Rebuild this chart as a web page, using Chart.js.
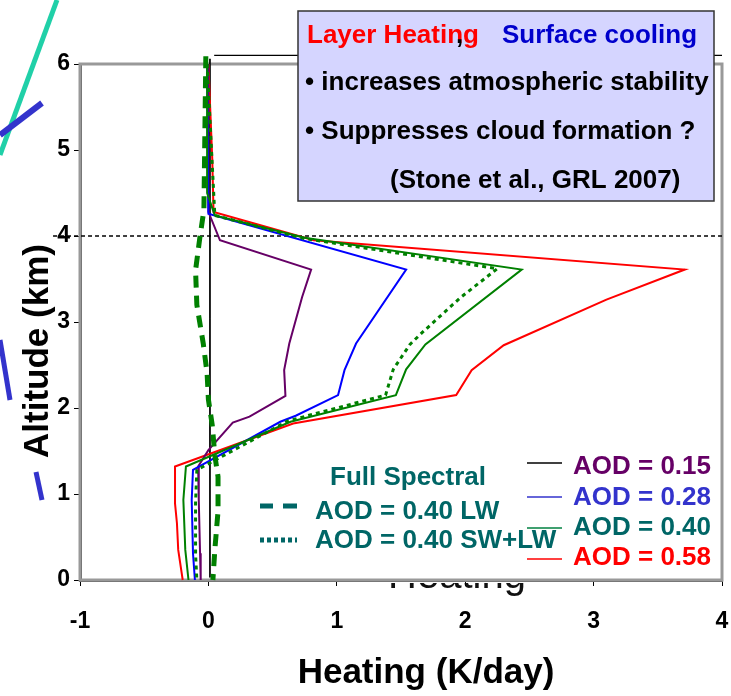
<!DOCTYPE html>
<html>
<head>
<meta charset="utf-8">
<script src="https://cdn.jsdelivr.net/npm/chart.js@4.4.1/dist/chart.umd.min.js"></script>
<style>
  html, body { margin: 0; padding: 0; background: #fff; }
</style>
</head>
<body>
<canvas id="heatChart" width="731" height="696"></canvas>
<script>
// heating rate (K/day) vs altitude (km)

const aod15Heat = [0.0, 0.0, 0.09, 0.80, 0.73, 0.63, 0.59, 0.60, 0.32, 0.19, 0.0, -0.08, -0.075, -0.065, -0.06];
const aod15Alt  = [6.0, 4.28, 3.95, 3.61, 3.29, 2.75, 2.44, 2.14, 1.90, 1.83, 1.51, 1.32, 0.93, 0.31, 0.0];

const aod28Heat = [-0.01, 0.0, 1.54, 1.15, 1.06, 1.01, 0.68, 0.56, -0.12, -0.13, -0.12, -0.105];
const aod28Alt  = [6.0, 4.26, 3.61, 2.75, 2.44, 2.15, 1.91, 1.84, 1.28, 0.93, 0.31, 0.0];

const aod40Heat = [-0.01, -0.01, 0.05, 0.75, 2.44, 1.69, 1.54, 1.46, 0.64, -0.175, -0.195, -0.18, -0.155];
const aod40Alt  = [6.0, 4.5, 4.24, 3.98, 3.61, 2.74, 2.45, 2.15, 1.84, 1.32, 0.93, 0.35, 0.0];

const aod58Heat = [0.0, 0.03, 0.04, 0.82, 3.71, 3.10, 2.30, 2.05, 1.93, 0.66, -0.26, -0.26, -0.245, -0.235, -0.20];
const aod58Alt  = [6.0, 4.9, 4.28, 3.95, 3.61, 3.26, 2.73, 2.44, 2.15, 1.82, 1.32, 0.89, 0.66, 0.35, 0.0];

// AOD 0.40 longwave only (dashed) and shortwave+longwave (dotted)
const lwHeat = [-0.02, -0.035, -0.065, -0.10, -0.09, -0.04, -0.01, 0.0, 0.03, 0.05, 0.075, 0.075, 0.05, 0.035];
const lwAlt  = [6.09, 4.3, 4.0, 3.6, 3.2, 2.75, 2.4, 2.1, 1.8, 1.45, 1.2, 0.8, 0.35, 0.0];

const swlwHeat = [-0.01, 0.05, 0.75, 2.25, 1.96, 1.66, 1.57, 1.44, 1.38, 0.62, -0.09, -0.1, -0.1, -0.09];
const swlwAlt  = [6.0, 4.24, 3.97, 3.62, 3.28, 2.87, 2.74, 2.45, 2.15, 1.85, 1.28, 0.9, 0.3, 0.0];

// reference lines
const zeroHeat = [0.012, 0.012];
const zeroAlt  = [6.06, 0.03];
const capHeat  = [-1.21, 4.0];
const capAlt   = [4.0, 4.0];
const topHeat  = [0.045, 4.0];
const topAlt   = [6.1, 6.1];

const xTicks = [-1, 0, 1, 2, 3, 4];
const yTicks = [0, 1, 2, 3, 4, 5, 6];

const FONT = '"Liberation Sans", Arial, sans-serif';

function pts(xs, ys) {
  return xs.map((x, i) => ({ x: x, y: ys[i] }));
}

function line(label, xs, ys, color, width, dash, order) {
  return {
    label: label,
    data: pts(xs, ys),
    showLine: true,
    borderColor: color,
    backgroundColor: color,
    borderWidth: width,
    borderDash: dash || [],
    pointRadius: 0,
    tension: 0,
    clip: false,
    order: order
  };
}

// decorations, axis titles, box and legend text
const decor = {
  id: 'decor',
  beforeDraw(chart) {
    const ctx = chart.ctx;
    ctx.save();
    ctx.lineCap = 'butt';
    ctx.strokeStyle = '#20D0A8';
    ctx.lineWidth = 5;
    ctx.beginPath(); ctx.moveTo(57, 0); ctx.lineTo(0, 155); ctx.stroke();
    ctx.strokeStyle = '#3333CC';
    ctx.lineWidth = 6;
    ctx.beginPath(); ctx.moveTo(0, 135); ctx.lineTo(42, 103); ctx.stroke();
    ctx.lineWidth = 5;
    ctx.beginPath(); ctx.moveTo(0, 340); ctx.lineTo(10, 400); ctx.stroke();
    ctx.beginPath(); ctx.moveTo(36, 472); ctx.lineTo(42, 500); ctx.stroke();
    // ghost word under the axis
    ctx.beginPath(); ctx.rect(300, 583, 300, 20); ctx.clip();
    ctx.fillStyle = '#111';
    ctx.font = '40px ' + FONT;
    ctx.textBaseline = 'alphabetic';
    ctx.fillText('Heating', 388, 588);
    ctx.restore();
  },
  beforeDatasetsDraw(chart) {
    const a = chart.chartArea;
    const ctx = chart.ctx;
    ctx.save();
    ctx.strokeStyle = '#999';
    ctx.lineWidth = 3;
    ctx.strokeRect(a.left, a.top, a.right - a.left, a.bottom - a.top);
    ctx.restore();
  },
  afterDraw(chart) {
    const ctx = chart.ctx;
    ctx.save();

    // axis titles
    ctx.fillStyle = '#000';
    ctx.font = 'bold 35px ' + FONT;
    ctx.textAlign = 'center';
    ctx.textBaseline = 'middle';
    ctx.fillText('Heating (K/day)', 426, 673);
    ctx.save();
    ctx.translate(38, 351);
    ctx.rotate(-Math.PI / 2);
    ctx.fillText('Altitude (km)', 0, 0);
    ctx.restore();

    ctx.fillStyle = '#D5D5FF';
    ctx.fillRect(298, 11, 416, 190);
    ctx.strokeStyle = '#333';
    ctx.lineWidth = 1.5;
    ctx.strokeRect(298, 11, 416, 190);

    ctx.font = 'bold 26px ' + FONT;
    ctx.textBaseline = 'middle';
    ctx.textAlign = 'left';
    ctx.fillStyle = '#FF0000';
    ctx.fillText('Layer Heating', 307, 36);
    ctx.fillStyle = '#000';
    ctx.fillText(',', 456, 36);
    ctx.fillStyle = '#0000CC';
    ctx.fillText('Surface cooling', 502, 36);
    ctx.fillStyle = '#000';
    ctx.fillText('\u2022 increases atmospheric stability', 305, 83);
    ctx.fillText('\u2022 Suppresses cloud formation ?', 305, 132);
    ctx.fillText('(Stone et al., GRL 2007)', 390, 181);

    // left legend block
    const teal = '#006666';
    ctx.fillStyle = teal;
    ctx.fillText('Full Spectral', 330, 478);
    ctx.fillText('AOD = 0.40 LW', 315, 512);
    ctx.fillText('AOD = 0.40 SW+LW', 315, 541);
    ctx.strokeStyle = teal;
    ctx.lineWidth = 5;
    ctx.beginPath(); ctx.moveTo(260, 506); ctx.lineTo(273, 506); ctx.moveTo(283, 506); ctx.lineTo(297, 506); ctx.stroke();
    ctx.setLineDash([4, 3]);
    ctx.beginPath(); ctx.moveTo(260, 540); ctx.lineTo(297, 540); ctx.stroke();
    ctx.setLineDash([]);

    // right legend block
    const rows = [
      { text: 'AOD = 0.15', color: '#660066', line: '#000000', ly: 463, ty: 467 },
      { text: 'AOD = 0.28', color: '#3333CC', line: '#3333CC', ly: 497, ty: 498 },
      { text: 'AOD = 0.40', color: teal, line: '#008040', ly: 528, ty: 528 },
      { text: 'AOD = 0.58', color: '#FF0000', line: '#FF0000', ly: 559, ty: 558 }
    ];
    rows.forEach(r => {
      ctx.strokeStyle = r.line;
      ctx.lineWidth = 1.5;
      ctx.beginPath(); ctx.moveTo(527, r.ly); ctx.lineTo(562, r.ly); ctx.stroke();
      ctx.fillStyle = r.color;
      ctx.fillText(r.text, 573, r.ty);
    });
    ctx.restore();
  }
};

const config = {
  type: 'scatter',
  data: {
    datasets: [
      line('zero', zeroHeat, zeroAlt, '#000', 1, null, 7),
      line('4 km', capHeat, capAlt, '#000', 1.5, [4, 3], 8),
      line('top', topHeat, topAlt, '#000', 1.2, null, 9),
      line('AOD = 0.15', aod15Heat, aod15Alt, '#660066', 2, null, 5),
      line('AOD = 0.28', aod28Heat, aod28Alt, '#0000FF', 2, null, 4),
      line('AOD = 0.40 SW+LW', swlwHeat, swlwAlt, '#008000', 3, [4, 4], 3),
      line('AOD = 0.40', aod40Heat, aod40Alt, '#008000', 2, null, 2),
      line('AOD = 0.58', aod58Heat, aod58Alt, '#FF0000', 2, null, 6),
      line('AOD = 0.40 LW', lwHeat, lwAlt, '#008000', 5, [12, 8], 1)
    ]
  },
  options: {
    responsive: false,
    animation: false,
    layout: { padding: { left: 0, right: 9, top: 64, bottom: 0 } },
    plugins: { legend: { display: false }, tooltip: { enabled: false } },
    scales: {
      x: {
        type: 'linear',
        min: -1, max: 4,
        afterBuildTicks: s => { s.ticks = xTicks.map(v => ({ value: v })); },
        afterFit: s => { s.height = 116; s.paddingLeft = 0; s.paddingRight = 0; },
        ticks: { color: '#000', font: { family: FONT, size: 23, weight: 'bold' }, padding: 22 },
        grid: { drawOnChartArea: false, tickLength: 6, tickColor: '#000' },
        border: { color: '#555', width: 3 },
        title: { display: false }
      },
      y: {
        type: 'linear',
        min: 0, max: 6,
        afterBuildTicks: s => { s.ticks = yTicks.map(v => ({ value: v })); },
        afterFit: s => { s.width = 80; s.paddingTop = 0; s.paddingBottom = 0; },
        ticks: { color: '#000', font: { family: FONT, size: 23, weight: 'bold' }, padding: 4 },
        grid: { drawOnChartArea: false, tickLength: 6, tickColor: '#000' },
        border: { color: '#555', width: 3 },
        title: { display: false }
      }
    }
  },
  plugins: [decor]
};

const heatChart = new Chart(document.getElementById('heatChart'), config);
</script>
</body>
</html>
